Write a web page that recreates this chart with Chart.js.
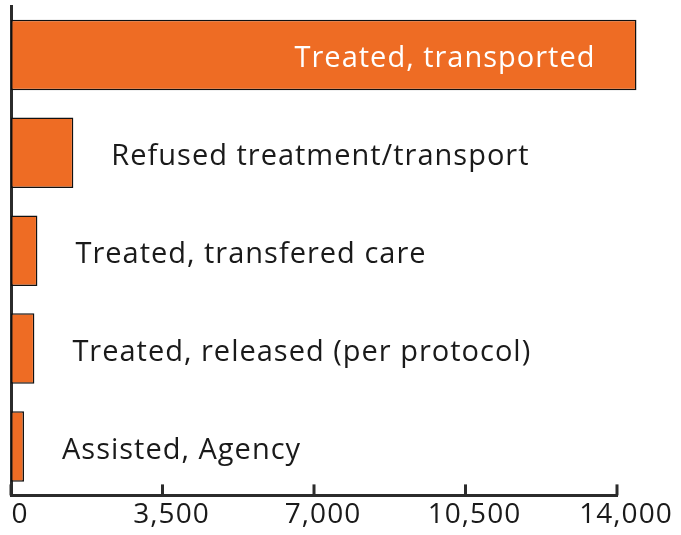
<!DOCTYPE html>
<html>
<head>
<meta charset="utf-8">
<script src="https://cdn.jsdelivr.net/npm/chart.js@4/dist/chart.umd.min.js"></script>
<style>
  html, body { margin: 0; padding: 0; background: #fff; }
  #wrap { width: 681px; height: 535px; }
</style>
</head>
<body>
<div id="wrap"><canvas id="myChart"></canvas></div>
<script>
// data
var categories = ["Treated, transported", "Refused treatment/transport", "Treated, transfered care", "Treated, released (per protocol)", "Assisted, Agency"];
var counts = [14450, 1440, 610, 540, 300];
var tickValues = [0, 3500, 7000, 10500, 14000];

var orange = "#ee6c24";
var ink = "#2b2b2b";
var fontName = "'Open Sans', sans-serif";

// wider letter spacing, the original face is a wide geometric sans
var spacing = {
    id: "spacing",
    beforeDraw: function (chart) { chart.ctx.letterSpacing = "1px"; },
    afterDraw: function (chart) { chart.ctx.letterSpacing = "0px"; }
};

// category names written next to (or inside) each bar
var barLabels = {
    id: "barLabels",
    afterDatasetsDraw: function (chart) {
        var ctx = chart.ctx;
        var meta = chart.getDatasetMeta(0);
        ctx.save();
        ctx.letterSpacing = "1px";
        ctx.font = "29px " + fontName;
        ctx.textBaseline = "middle";
        meta.data.forEach(function (bar, i) {
            var txt = categories[i];
            var w = ctx.measureText(txt).width;
            var len = bar.x - bar.base;
            if (len > w + 90) {
                ctx.fillStyle = "#ffffff";
                ctx.textAlign = "right";
                ctx.fillText(txt, bar.x - 41, bar.y + 4);
            } else {
                ctx.fillStyle = "#1a1a1a";
                ctx.textAlign = "left";
                ctx.fillText(txt, bar.x + 38, bar.y + 4);
            }
        });
        ctx.restore();
    }
};

// short tick marks pointing up into the plot
var innerTicks = {
    id: "innerTicks",
    afterDraw: function (chart) {
        var sc = chart.scales.x;
        var ctx = chart.ctx;
        ctx.save();
        ctx.strokeStyle = ink;
        ctx.lineWidth = 3;
        sc.ticks.forEach(function (t) {
            var px = sc.getPixelForValue(t.value);
            ctx.beginPath();
            ctx.moveTo(px, sc.top);
            ctx.lineTo(px, sc.top - 11);
            ctx.stroke();
        });
        ctx.restore();
    }
};

var ctx = document.getElementById('myChart').getContext('2d');
var chart = new Chart(ctx, {
    type: 'bar',
    data: {
        labels: categories,
        datasets: [{
            data: counts,
            backgroundColor: orange,
            borderColor: "#111111",
            borderWidth: 1.5,
            borderSkipped: false,
            clip: false,
            categoryPercentage: 1,
            barPercentage: 0.72
        }]
    },
    options: {
        indexAxis: 'y',
        responsive: true,
        maintainAspectRatio: false,
        animation: false,
        layout: { padding: { left: 9, top: 6, right: 64, bottom: 0 } },
        plugins: {
            legend: { display: false },
            tooltip: { enabled: false }
        },
        scales: {
            x: {
                min: 0,
                max: 14000,
                afterBuildTicks: function (axis) {
                    axis.ticks = tickValues.map(function (v) { return { value: v }; });
                },
                grid: { display: false, drawTicks: false },
                border: { color: ink, width: 3 },
                ticks: {
                    color: "#1a1a1a",
                    font: { family: fontName, size: 28 },
                    padding: 3,
                    labelOffset: 9,
                    maxRotation: 0,
                    callback: function (v) { return v.toLocaleString('en-US'); }
                }
            },
            y: {
                ticks: { display: false },
                grid: { display: false, drawTicks: false },
                border: { color: ink, width: 3 }
            }
        }
    },
    plugins: [spacing, barLabels, innerTicks]
});
</script>
</body>
</html>
